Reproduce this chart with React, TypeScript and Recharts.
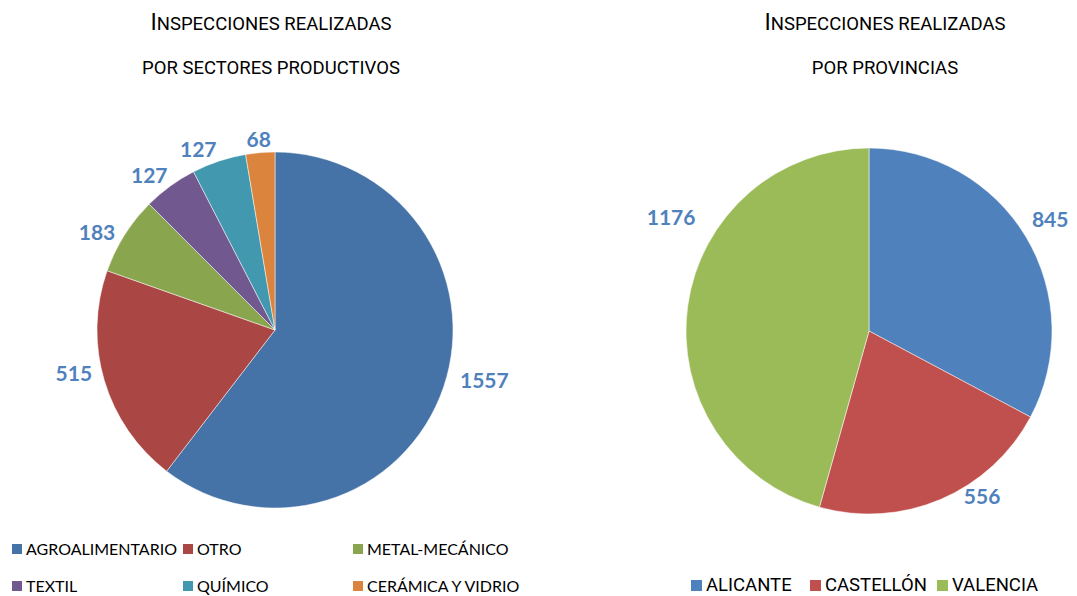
import React from "react";
import { PieChart, Pie, Cell } from "recharts";

const SECTORS = [
  "AGROALIMENTARIO",
  "OTRO",
  "METAL-MECÁNICO",
  "TEXTIL",
  "QUÍMICO",
  "CERÁMICA Y VIDRIO",
];
const SECTOR_VALUES = [1557, 515, 183, 127, 127, 68];
const SECTOR_COLORS = ["#4572A7", "#AA4643", "#89A54E", "#71588F", "#4198AF", "#DB843D"];

const PROVINCES = ["ALICANTE", "CASTELLÓN", "VALENCIA"];
const PROVINCE_VALUES = [845, 556, 1176];
const PROVINCE_COLORS = ["#4F81BD", "#C0504D", "#9BBB59"];

const sectorData = SECTORS.map((name, i) => ({ name, value: SECTOR_VALUES[i] }));
const provinceData = PROVINCES.map((name, i) => ({ name, value: PROVINCE_VALUES[i] }));

const RAD = Math.PI / 180;
const LABEL_COLOR = "#4F81BD";

// small angle / distance tweaks so labels sit where the original put them
const LEFT_NUDGE = [-4.5, 4, -2, -1.5, -3.5, 0];
const LEFT_GAP = [14, 10, 10, 10, 10, 6];
const RIGHT_NUDGE = [-2, -10, 24];
const RIGHT_GAP = [15, 6, 26];

function makeLabel(nudge: number[], gaps: number[]) {
  return (props: any) => {
    const { cx, cy, midAngle, outerRadius, value, index } = props;
    const a = (midAngle - (nudge[index] || 0)) * RAD;
    const dx = Math.cos(a);
    const dy = -Math.sin(a);
    const w = String(value).length * 12;
    const h = 16;
    const r = outerRadius + gaps[index];
    const x = cx + r * dx + (dx * w) / 2;
    const y = cy + r * dy + (dy * h) / 2;
    return (
      <text
        x={x}
        y={y}
        fill={LABEL_COLOR}
        textAnchor="middle"
        dominantBaseline="central"
        fontFamily="Lato, sans-serif"
        fontWeight={700}
        fontSize={21}
      >
        {value}
      </text>
    );
  };
}

function Title({ x, line2 }: { x: number; line2: string }) {
  return (
    <g fontFamily="Roboto, sans-serif" fill="#000">
      <text x={x} y={30} textAnchor="middle" fontSize={18.5}>
        <tspan fontSize={23}>I</tspan>NSPECCIONES REALIZADAS
      </text>
      <text x={x} y={74} textAnchor="middle" fontSize={18.5}>
        {line2}
      </text>
    </g>
  );
}

export default function App() {
  const leftLegendX = [12, 183, 353];
  const rightLegendX = [691, 810, 937];
  return (
    <div style={{ position: "absolute", left: 0, top: 0, width: 1077, height: 596, background: "#fff" }}>
      <PieChart width={1077} height={596} margin={{ top: 0, right: 0, bottom: 0, left: 0 }}>
        <Pie
          data={sectorData}
          dataKey="value"
          cx={275}
          cy={330}
          outerRadius={178}
          startAngle={90}
          endAngle={-270}
          stroke="#ffffff"
          strokeWidth={0.5}
          labelLine={false}
          label={makeLabel(LEFT_NUDGE, LEFT_GAP)}
          isAnimationActive={false}
        >
          {sectorData.map((d, i) => (
            <Cell key={d.name} fill={SECTOR_COLORS[i]} />
          ))}
        </Pie>
        <Pie
          data={provinceData}
          dataKey="value"
          cx={869}
          cy={331}
          outerRadius={183}
          startAngle={90}
          endAngle={-270}
          stroke="#ffffff"
          strokeWidth={0.5}
          labelLine={false}
          label={makeLabel(RIGHT_NUDGE, RIGHT_GAP)}
          isAnimationActive={false}
        >
          {provinceData.map((d, i) => (
            <Cell key={d.name} fill={PROVINCE_COLORS[i]} />
          ))}
        </Pie>
        <Title x={271} line2="POR SECTORES PRODUCTIVOS" />
        <Title x={885} line2="POR PROVINCIAS" />
      </PieChart>

      {SECTORS.map((name, i) => (
        <div
          key={name}
          style={{
            position: "absolute",
            left: leftLegendX[i % 3],
            top: i < 3 ? 540 : 577,
            display: "flex",
            alignItems: "center",
            fontFamily: "Lato, sans-serif",
            fontSize: 16,
            color: "#000",
            whiteSpace: "nowrap",
            lineHeight: "18px",
          }}
        >
          <span style={{ width: 10, height: 10, background: SECTOR_COLORS[i], marginRight: 4 }} />
          {name}
        </div>
      ))}

      {PROVINCES.map((name, i) => (
        <div
          key={name}
          style={{
            position: "absolute",
            left: rightLegendX[i],
            top: 575,
            display: "flex",
            alignItems: "center",
            fontFamily: "Roboto, sans-serif",
            fontSize: 18.5,
            color: "#000",
            lineHeight: "20px",
            whiteSpace: "nowrap",
          }}
        >
          <span style={{ width: 11, height: 11, background: PROVINCE_COLORS[i], marginRight: 4 }} />
          {name}
        </div>
      ))}
    </div>
  );
}
